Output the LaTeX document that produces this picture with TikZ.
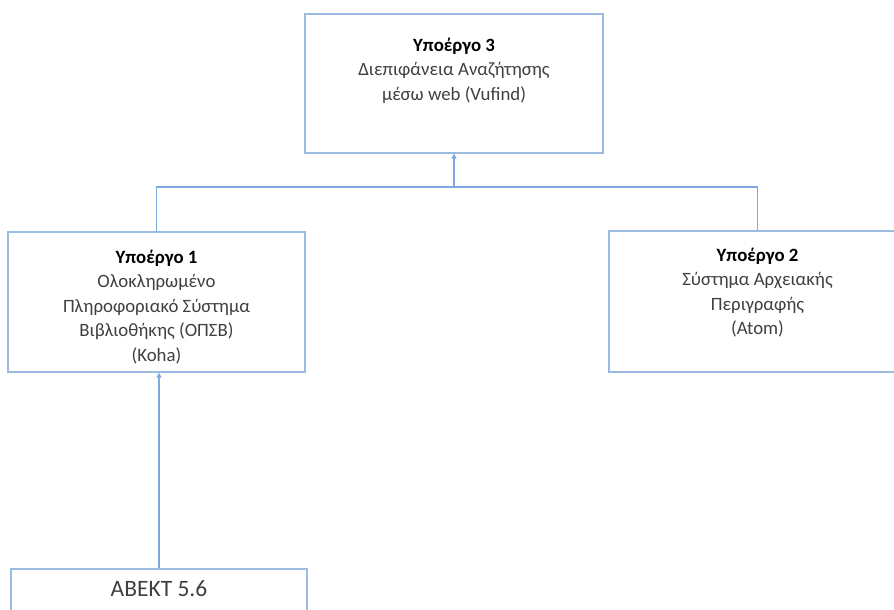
\documentclass[tikz,border=0pt]{standalone}
\usepackage{fontspec}
\setmainfont{Carlito}
\usetikzlibrary{arrows.meta}
\definecolor{boxline}{HTML}{9BBBE0}
\definecolor{conn}{HTML}{7FAADF}
\definecolor{txt}{HTML}{404040}
\tikzset{
  boxnode/.style={draw=boxline, line width=1.2pt, inner sep=0pt, fill=white},
  txtnode/.style={anchor=north, align=center, inner sep=0pt, text=txt,
    font=\fontsize{18.8}{24.5}\selectfont},
  bignode/.style={anchor=north, align=center, inner sep=0pt, text=txt,
    font=\fontsize{23.5}{27}\selectfont},
  conline/.style={draw=conn, line width=1.1pt},
  conarrow/.style={conline, -{Triangle[length=5pt,width=5pt]}},
}
\newcommand{\firstline}{\rule{0pt}{15pt}}
\begin{document}
\begin{tikzpicture}[x=1pt,y=-1pt]
\useasboundingbox (0,0) rectangle (894,610);
\begin{scope}
\clip (0,0) rectangle (894,610);
% boxes
\node[boxnode, minimum width=298pt, minimum height=139pt] (top) at (454,83.5) {};
\node[boxnode, minimum width=297pt, minimum height=140pt] (left) at (156.5,302) {};
\node[boxnode, minimum width=297pt, minimum height=141pt] (right) at (757.5,301.5) {};
\node[boxnode, minimum width=296pt, minimum height=140pt] (bottom) at (159,639) {};
\end{scope}
% texts
\node[txtnode] (toptxt) at (454,36) {\firstline\textbf{\color{black}Υποέργο 3}\\Διεπιφάνεια Αναζήτησης\\μέσω web (Vufind)};
\node[txtnode] (lefttxt) at (156.5,248) {\firstline\textbf{\color{black}Υποέργο 1}\\Ολοκληρωμένο\\Πληροφοριακό Σύστημα\\Βιβλιοθήκης (ΟΠΣΒ)\\(Koha)};
\node[txtnode] (righttxt) at (757.5,246) {\firstline\textbf{\color{black}Υποέργο 2}\\Σύστημα Αρχειακής\\Περιγραφής\\(Atom)};
\node[bignode] (bottomtxt) at (159,578) {\rule{0pt}{18pt}ΑΒΕΚΤ 5.6};
% connectors
\coordinate (bus) at (454,187);
\draw[conline] (left.north) -- (left.north |- bus) -| (right.north);
\draw[conarrow] (bus) -- (top.south);
\draw[conarrow] (bottom.north) -- (bottom.north |- left.south);
\end{tikzpicture}
\end{document}
